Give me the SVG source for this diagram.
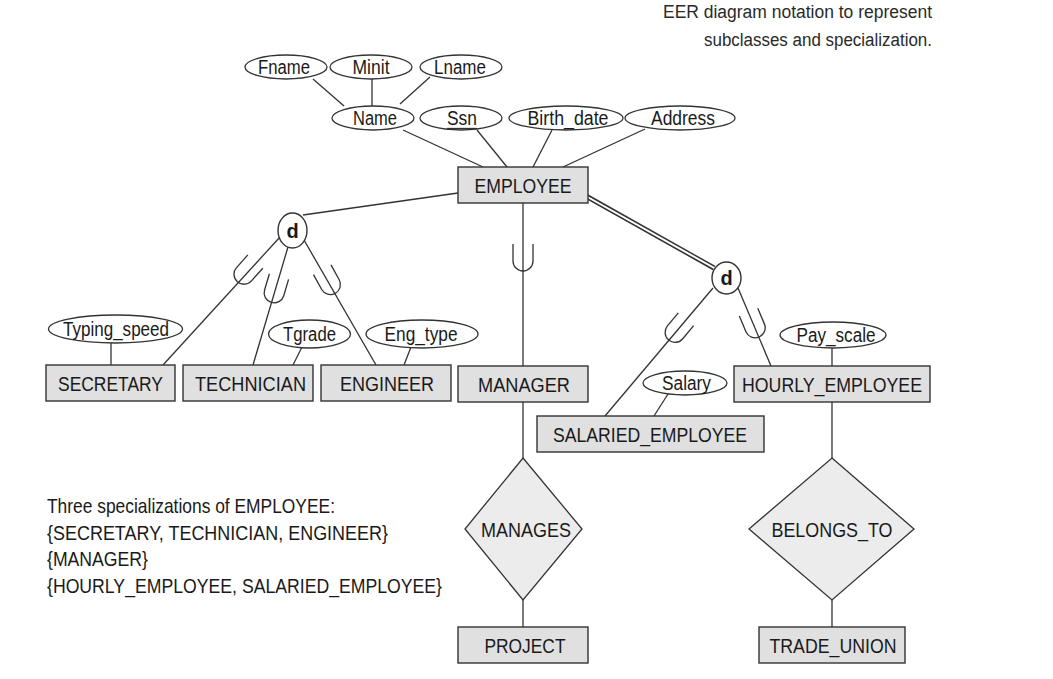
<svg xmlns="http://www.w3.org/2000/svg" width="1053" height="679" viewBox="0 0 1053 679">
<style>
.ent{fill:#e0e0e0;stroke:#333;stroke-width:1.4}
.rel{fill:#ececec;stroke:#333;stroke-width:1.3}
.att{fill:#fff;stroke:#333;stroke-width:1.3}
.circ{fill:#fff;stroke:#333;stroke-width:1.4}
.ln{stroke:#333;stroke-width:1.3;fill:none}
.sub{stroke:#333;stroke-width:1.3;fill:none}
text{font-family:"Liberation Sans",Arial,sans-serif;fill:#1a1a1a}
.lbl{font-size:21px;text-anchor:middle}
.alb{font-size:20px;text-anchor:middle}
.dd{font-size:20px;font-weight:bold;text-anchor:middle}
.note{font-size:21px}
.ttl{font-size:18px;text-anchor:end;fill:#2a2a2a}
</style>
<defs>
<path id="subset" d="M -10,-14 V 3 A 10 10 0 0 0 10 3 V -14"/>
</defs>
<rect width="1053" height="679" fill="#fff"/>

<g id="title">
<text class="ttl" x="932" y="18" textLength="269" lengthAdjust="spacingAndGlyphs">EER diagram notation to represent</text>
<text class="ttl" x="932" y="46" textLength="228" lengthAdjust="spacingAndGlyphs">subclasses and specialization.</text>
</g>

<g id="connectors">
<line class="ln" x1="313" y1="79" x2="344" y2="106"/>
<line class="ln" x1="372" y1="79" x2="372" y2="106"/>
<line class="ln" x1="430" y1="77" x2="400" y2="104"/>
<line class="ln" x1="403" y1="130" x2="483" y2="167"/>
<line class="ln" x1="477" y1="130" x2="507" y2="167"/>
<line class="ln" x1="552" y1="130" x2="533" y2="167"/>
<line class="ln" x1="645" y1="129" x2="563" y2="167"/>
<line class="ln" x1="458" y1="193" x2="303" y2="215"/>
<line class="ln" x1="280" y1="237" x2="163" y2="365"/>
<line class="ln" x1="288" y1="247" x2="253" y2="365"/>
<line class="ln" x1="304" y1="240" x2="376" y2="365"/>
<line class="ln" x1="523" y1="203" x2="523" y2="366"/>
<line x1="586" y1="196" x2="714" y2="268" stroke="#333" stroke-width="5"/>
<line x1="584" y1="195" x2="716" y2="269" stroke="#fff" stroke-width="2"/>
<line class="ln" x1="713" y1="288" x2="605" y2="416"/>
<line class="ln" x1="738" y1="288" x2="771" y2="366"/>
<line class="ln" x1="111" y1="343" x2="111" y2="365"/>
<line class="ln" x1="302" y1="347" x2="293" y2="365"/>
<line class="ln" x1="411" y1="347" x2="404" y2="365"/>
<line class="ln" x1="668" y1="394" x2="654" y2="416"/>
<line class="ln" x1="832" y1="348" x2="832" y2="366"/>
<line class="ln" x1="523" y1="402" x2="523" y2="458"/>
<line class="ln" x1="523" y1="600" x2="523" y2="627"/>
<line class="ln" x1="832" y1="402" x2="832" y2="458"/>
<line class="ln" x1="832" y1="600" x2="832" y2="627"/>
<use href="#subset" class="sub" transform="translate(246,272) rotate(41.7)"/>
<use href="#subset" class="sub" transform="translate(275,290) rotate(16.5)"/>
<use href="#subset" class="sub" transform="translate(329,282) rotate(-28.9)"/>
<use href="#subset" class="sub" transform="translate(523,258)"/>
<use href="#subset" class="sub" transform="translate(677,330) rotate(39.9)"/>
<use href="#subset" class="sub" transform="translate(754,325) rotate(-22.9)"/>
</g>

<g id="Fname"><ellipse class="att" cx="286" cy="67" rx="41" ry="12"/><text class="alb" x="284" y="74" textLength="52" lengthAdjust="spacingAndGlyphs">Fname</text></g>
<g id="Minit"><ellipse class="att" cx="371" cy="67" rx="41" ry="12"/><text class="alb" x="371" y="74" textLength="37" lengthAdjust="spacingAndGlyphs">Minit</text></g>
<g id="Lname"><ellipse class="att" cx="461" cy="67" rx="41" ry="12"/><text class="alb" x="460" y="74" textLength="52" lengthAdjust="spacingAndGlyphs">Lname</text></g>
<g id="Name"><ellipse class="att" cx="373" cy="118" rx="41" ry="12"/><text class="alb" x="375" y="125" textLength="44" lengthAdjust="spacingAndGlyphs">Name</text></g>
<g id="Ssn"><ellipse class="att" cx="461" cy="118" rx="41" ry="12"/><text class="alb" x="462" y="125" textLength="30" lengthAdjust="spacingAndGlyphs">Ssn</text><line class="ln" x1="447" y1="128.5" x2="477" y2="128.5"/></g>
<g id="Birth_date"><ellipse class="att" cx="566" cy="118" rx="57" ry="12"/><text class="alb" x="568" y="125" textLength="81" lengthAdjust="spacingAndGlyphs">Birth_date</text></g>
<g id="Address"><ellipse class="att" cx="680" cy="118" rx="55" ry="12"/><text class="alb" x="683" y="125" textLength="64" lengthAdjust="spacingAndGlyphs">Address</text></g>

<g id="EMPLOYEE"><rect class="ent" x="458" y="167" width="130" height="36"/><text class="lbl" x="523" y="192.5" textLength="97" lengthAdjust="spacingAndGlyphs">EMPLOYEE</text></g>

<g id="d1"><ellipse class="circ" cx="292.5" cy="230.5" rx="14.5" ry="17.5"/><text class="dd" x="292.5" y="237.5">d</text></g>
<g id="d2"><ellipse class="circ" cx="726.5" cy="278" rx="14.5" ry="16"/><text class="dd" x="726.5" y="285">d</text></g>

<g id="Typing_speed"><ellipse class="att" cx="115.5" cy="329" rx="67" ry="14"/><text class="alb" x="116" y="336" textLength="106" lengthAdjust="spacingAndGlyphs">Typing_speed</text></g>
<g id="Tgrade"><ellipse class="att" cx="309.5" cy="334" rx="41" ry="14"/><text class="alb" x="309.5" y="341" textLength="53" lengthAdjust="spacingAndGlyphs">Tgrade</text></g>
<g id="Eng_type"><ellipse class="att" cx="422" cy="334" rx="56" ry="14"/><text class="alb" x="421" y="341" textLength="73" lengthAdjust="spacingAndGlyphs">Eng_type</text></g>
<g id="Salary"><ellipse class="att" cx="685" cy="383" rx="42" ry="12"/><text class="alb" x="686.5" y="390" textLength="49" lengthAdjust="spacingAndGlyphs">Salary</text></g>
<g id="Pay_scale"><ellipse class="att" cx="833" cy="335" rx="53" ry="13"/><text class="alb" x="836" y="342" textLength="79" lengthAdjust="spacingAndGlyphs">Pay_scale</text></g>

<g id="SECRETARY"><rect class="ent" x="46" y="365" width="129" height="36"/><text class="lbl" x="110.5" y="390.5" textLength="105" lengthAdjust="spacingAndGlyphs">SECRETARY</text></g>
<g id="TECHNICIAN"><rect class="ent" x="183" y="365" width="130" height="36"/><text class="lbl" x="250.5" y="390.5" textLength="111" lengthAdjust="spacingAndGlyphs">TECHNICIAN</text></g>
<g id="ENGINEER"><rect class="ent" x="321" y="365" width="130" height="36"/><text class="lbl" x="387" y="390.5" textLength="94" lengthAdjust="spacingAndGlyphs">ENGINEER</text></g>
<g id="MANAGER"><rect class="ent" x="458" y="366" width="130" height="36"/><text class="lbl" x="524" y="391.5" textLength="92" lengthAdjust="spacingAndGlyphs">MANAGER</text></g>
<g id="HOURLY_EMPLOYEE"><rect class="ent" x="734" y="366" width="196" height="36"/><text class="lbl" x="832" y="391.5" textLength="180" lengthAdjust="spacingAndGlyphs">HOURLY_EMPLOYEE</text></g>
<g id="SALARIED_EMPLOYEE"><rect class="ent" x="537" y="416" width="227" height="36"/><text class="lbl" x="650" y="441.5" textLength="194" lengthAdjust="spacingAndGlyphs">SALARIED_EMPLOYEE</text></g>

<g id="MANAGES"><polygon class="rel" points="523,458 582,529 523,600 465,529"/><text class="lbl" x="526" y="536.5" textLength="90" lengthAdjust="spacingAndGlyphs">MANAGES</text></g>
<g id="BELONGS_TO"><polygon class="rel" points="832,458 914,529 832,600 749,529"/><text class="lbl" x="832" y="536.5" textLength="121" lengthAdjust="spacingAndGlyphs">BELONGS_TO</text></g>
<g id="PROJECT"><rect class="ent" x="458" y="627" width="130" height="36"/><text class="lbl" x="525" y="652.5" textLength="81" lengthAdjust="spacingAndGlyphs">PROJECT</text></g>
<g id="TRADE_UNION"><rect class="ent" x="759" y="627" width="146" height="36"/><text class="lbl" x="833" y="652.5" textLength="127" lengthAdjust="spacingAndGlyphs">TRADE_UNION</text></g>

<g id="note">
<text class="note" x="47" y="513" textLength="288" lengthAdjust="spacingAndGlyphs">Three specializations of EMPLOYEE:</text>
<text class="note" x="47" y="540" textLength="341" lengthAdjust="spacingAndGlyphs">{SECRETARY, TECHNICIAN, ENGINEER}</text>
<text class="note" x="47" y="566" textLength="101" lengthAdjust="spacingAndGlyphs">{MANAGER}</text>
<text class="note" x="47" y="593" textLength="395" lengthAdjust="spacingAndGlyphs">{HOURLY_EMPLOYEE, SALARIED_EMPLOYEE}</text>
</g>
</svg>
